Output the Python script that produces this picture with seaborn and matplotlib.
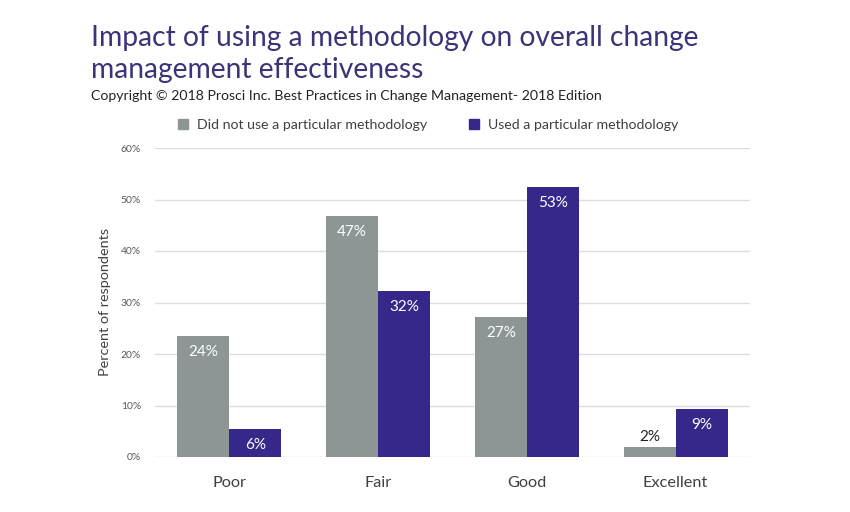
import pandas as pd
import matplotlib.pyplot as plt
import seaborn as sns

categories = ['Poor', 'Fair', 'Good', 'Excellent']
series = ['Did not use a particular methodology', 'Used a particular methodology']
not_used = [23.5, 46.8, 27.2, 1.9]
used = [5.5, 32.2, 52.5, 9.4]
not_used_labels = ['24%', '47%', '27%', '2%']
used_labels = ['6%', '32%', '53%', '9%']
yticks = [0, 10, 20, 30, 40, 50, 60]

gray = '#8E9595'
purple = '#35288A'
title_color = '#3A3478'

df = pd.DataFrame({
    'Rating': categories * 2,
    'Group': [series[0]] * 4 + [series[1]] * 4,
    'Percent': not_used + used,
})

sns.set_theme(style='white')
plt.rcParams['font.family'] = ['Lato', 'DejaVu Sans']

fig = plt.figure(figsize=(8.5, 5.12), dpi=100)
ax = fig.add_axes([155 / 850, 1 - 457 / 512, 595 / 850, 309 / 512])

sns.barplot(data=df, x='Rating', y='Percent', hue='Group', order=categories,
            hue_order=series, palette=[gray, purple], width=0.7, saturation=1,
            linewidth=0, legend=False, ax=ax)

ax.set_ylim(0, 60)
ax.set_xlim(-0.5, 3.5)
ax.set_yticks(yticks)
ax.set_yticklabels([f'{t}%' for t in yticks], fontsize=7.5, color='#595959')
ax.tick_params(axis='x', labelsize=11.7, colors='#404040', length=0, pad=14)
ax.tick_params(axis='y', length=0, pad=10)
ax.grid(axis='y', color='#DDDDDD', linewidth=1)
ax.set_axisbelow(True)
for s in ax.spines.values():
    s.set_visible(False)
ax.set_xlabel('')
ax.set_ylabel('Percent of respondents', fontsize=10.4, color='#404040', labelpad=7)

# value labels
for container, labels, vals in zip(ax.containers, [not_used_labels, used_labels], [not_used, used]):
    for bar, lab, v in zip(container, labels, vals):
        cx = bar.get_x() + bar.get_width() / 2
        if v < 4:
            ax.text(cx, v + 2.0, lab, ha='center', va='center', fontsize=11, color='#222222')
        else:
            ax.text(cx, v - 3.1, lab, ha='center', va='center', fontsize=11, color='white')

# legend
handles = [plt.Rectangle((0, 0), 1, 1, color=c) for c in [gray, purple]]
fig.legend(handles, series, loc='center', bbox_to_anchor=(428 / 850, 1 - 125 / 512),
           ncol=2, frameon=False, fontsize=10.2, handlelength=0.7, handleheight=0.7,
           columnspacing=3, handletextpad=0.6, labelcolor='#404040')

fig.text(91 / 850, 1 - 38 / 512, 'Impact of using a methodology on overall change',
         fontsize=20.3, color=title_color, va='center', ha='left')
fig.text(91 / 850, 1 - 70 / 512, 'management effectiveness',
         fontsize=20.3, color=title_color, va='center', ha='left')
fig.text(91 / 850, 1 - 96 / 512,
         'Copyright \u00a9 2018 Prosci Inc. Best Practices in Change Management- 2018 Edition',
         fontsize=10.2, color='#222222', va='center', ha='left')

fig.savefig('out.png', dpi=100)
